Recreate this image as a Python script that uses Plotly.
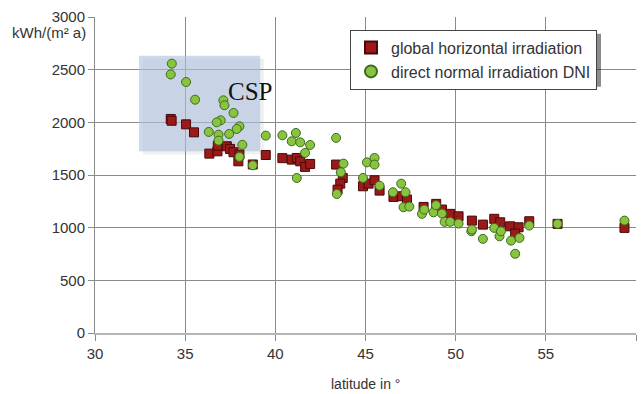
import plotly.graph_objects as go

# Global horizontal irradiation (latitude in °, kWh/(m² a))
ghi_lat = [34.20, 34.25, 35.05, 35.49, 36.34, 36.79, 36.81, 37.31, 37.49, 37.68, 38.01, 37.95,
           38.75, 39.47, 40.39, 40.91, 41.19, 41.38, 41.65, 41.93, 43.37, 43.74, 43.60, 43.45,
           44.86, 45.17, 45.50, 45.78, 46.55, 47.02, 47.30, 48.22, 48.92, 49.24, 49.70, 50.16,
           50.90, 51.51, 52.14, 52.47, 53.02, 53.49, 53.30, 54.08, 55.65, 59.36]
ghi_val = [2032, 2015, 1981, 1905, 1703, 1725, 1779, 1773, 1748, 1716, 1694, 1630,
           1600, 1690, 1660, 1646, 1662, 1630, 1577, 1605, 1599, 1472, 1418, 1361,
           1393, 1418, 1450, 1352, 1292, 1298, 1267, 1197, 1226, 1172, 1131, 1108,
           1067, 1029, 1084, 1051, 1013, 1004, 944, 1061, 1036, 998]

# Direct normal irradiation DNI
dni_lat = [34.26, 34.20, 35.05, 35.55, 37.12, 37.18, 37.68, 36.97, 36.75, 38.01, 37.86, 36.31,
           36.85, 37.44, 36.85, 38.17, 39.47, 40.39, 38.01, 38.75, 41.14, 40.91, 41.38, 41.93,
           41.65, 43.37, 43.78, 43.63, 41.19, 43.41, 45.08, 45.50, 45.50, 44.86, 45.78, 46.52,
           46.98, 47.22, 47.11, 47.43, 48.13, 48.26, 48.77, 48.91, 49.24, 49.39, 49.70, 50.16,
           50.87, 50.90, 51.51, 52.14, 52.43, 52.51, 53.07, 53.30, 53.54, 54.08, 55.65, 59.36]
dni_val = [2557, 2455, 2383, 2215, 2209, 2162, 2089, 2019, 2000, 1962, 1937, 1909,
           1883, 1890, 1826, 1786, 1874, 1877, 1672, 1592, 1899, 1820, 1810, 1785,
           1710, 1852, 1608, 1526, 1472, 1320, 1620, 1662, 1599, 1472, 1399, 1336,
           1418, 1336, 1194, 1200, 1131, 1172, 1146, 1213, 1134, 1055, 1055, 1039,
           966, 982, 894, 998, 918, 966, 877, 752, 903, 1020, 1036, 1067]

x_ticks = [30, 35, 40, 45, 50, 55, 60]
y_ticks = [0, 500, 1000, 1500, 2000, 2500, 3000]

# CSP highlighted region (latitude range, value range)
csp_lat = [32.44, 39.16]
csp_val = [1725, 2633]

PL, PR, PT, PB = 95, 636, 17.3, 333.5
PW, PH = PR - PL, PB - PT


def px_x(p):
    return (p - PL) / PW


def px_y(p):
    return (PB - p) / PH


fig = go.Figure()
fig.add_trace(go.Scatter(
    x=ghi_lat, y=ghi_val, mode="markers", name="global horizontal irradiation",
    marker=dict(symbol="square", size=9, color="#9a1a1a",
                line=dict(color="#4a0808", width=1))))
fig.add_trace(go.Scatter(
    x=dni_lat, y=dni_val, mode="markers", name="direct normal irradiation DNI",
    marker=dict(symbol="circle", size=9, color="#88c43f",
                line=dict(color="#3d6b1c", width=1))))

# CSP box with soft shadow
fig.add_shape(type="rect", xref="x", yref="y",
              x0=csp_lat[0] + 0.2, x1=csp_lat[1] + 0.2,
              y0=csp_val[0] - 30, y1=csp_val[1] - 30,
              fillcolor="rgba(120,130,150,0.12)", line=dict(width=0), layer="between")
fig.add_shape(type="rect", xref="x", yref="y",
              x0=csp_lat[0], x1=csp_lat[1], y0=csp_val[0], y1=csp_val[1],
              fillcolor="rgba(176,196,222,0.62)", line=dict(width=0), layer="between")
fig.add_annotation(x=38.6, y=2290, xref="x", yref="y", text="CSP", showarrow=False,
                   font=dict(family="Liberation Serif, Times New Roman, serif", size=25,
                             color="#111"))

# legend shadow (offset behind the legend box)
fig.add_shape(type="rect", xref="paper", yref="paper",
              x0=px_x(354), x1=px_x(601),
              y0=px_y(87), y1=px_y(34),
              fillcolor="rgba(0,0,0,0.45)", line=dict(width=0), layer="above")

# y-axis unit label
fig.add_annotation(x=px_x(88), y=px_y(33), xref="paper", yref="paper",
                   text="kWh/(m² a)", showarrow=False, xanchor="right", yanchor="middle",
                   font=dict(family="Liberation Sans, Arial, sans-serif", size=15, color="#333"))
# x-axis title
fig.add_annotation(x=0.5, y=px_y(385), xref="paper", yref="paper",
                   text="latitude in °", showarrow=False, xanchor="center", yanchor="middle",
                   font=dict(family="Liberation Sans, Arial, sans-serif", size=14, color="#333"))

fig.update_layout(
    width=644, height=394,
    margin=dict(l=PL, r=644 - PR, t=PT, b=394 - PB, pad=0),
    paper_bgcolor="white", plot_bgcolor="white",
    font=dict(family="Liberation Sans, Arial, sans-serif", size=15, color="#333"),
    showlegend=True,
    legend=dict(x=px_x(350), y=px_y(30), xanchor="left", yanchor="top",
                bgcolor="white", bordercolor="#444", borderwidth=1,
                font=dict(size=16, color="#333"), tracegroupgap=0,
                itemsizing="constant"),
    xaxis=dict(range=[30, 60], tickvals=x_ticks, ticktext=[str(v) for v in x_ticks],
               showgrid=True, gridcolor="#8a8a8a", gridwidth=1,
               showline=True, linecolor="#b5b5b5", linewidth=2,
               ticks="outside", ticklen=6, tickcolor="#8a8a8a",
               zeroline=False, fixedrange=True),
    yaxis=dict(range=[0, 3000], tickvals=y_ticks, ticktext=[str(v) for v in y_ticks],
               showgrid=True, gridcolor="#8a8a8a", gridwidth=1,
               showline=True, linecolor="#8a8a8a", linewidth=1,
               ticks="outside", ticklen=6, tickcolor="#8a8a8a",
               zeroline=False, fixedrange=True),
)

fig.write_html("out.html")
